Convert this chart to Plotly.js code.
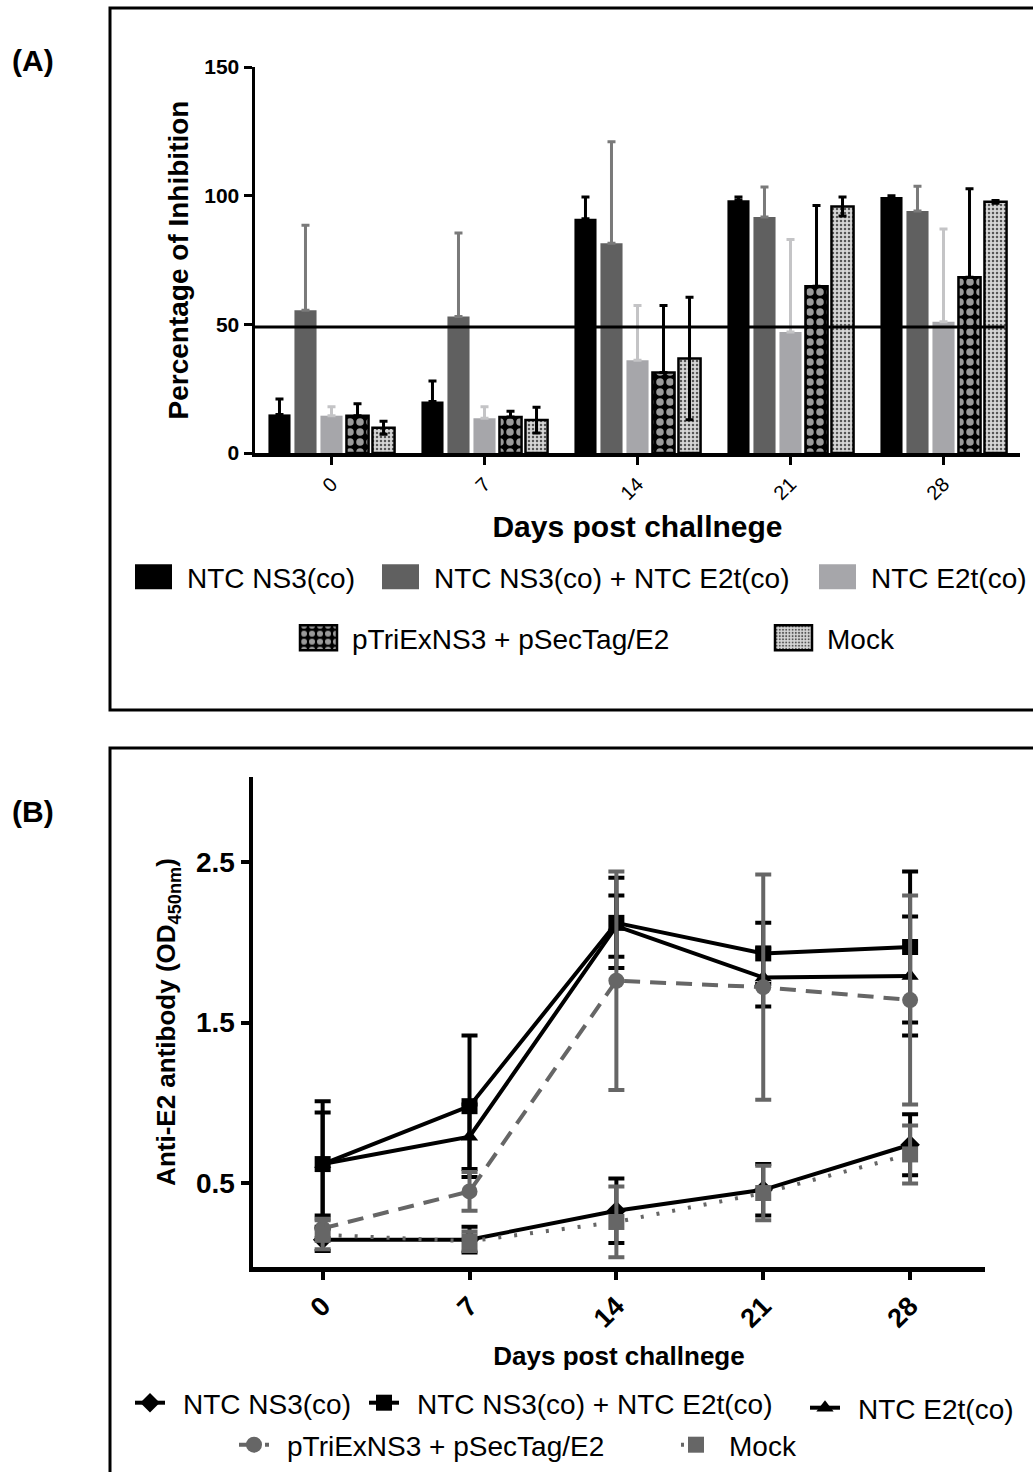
<!DOCTYPE html>
<html><head><meta charset="utf-8">
<script src="https://cdn.plot.ly/plotly-3.0.1.min.js"></script>
<style>html,body{margin:0;padding:0;background:#fff}#chart{width:1033px;height:1472px}</style>
</head><body><div id="chart"></div>
<script>
// ---------- data ----------
const days = ['0', '7', '14', '21', '28'];
const dayNums = [0, 7, 14, 21, 28];
const seriesNames = ['NTC NS3(co)', 'NTC NS3(co) + NTC E2t(co)', 'NTC E2t(co)', 'pTriExNS3 + pSecTag/E2', 'Mock'];

// Panel A: percentage of inhibition (mean, SD)
const inhNS3 = [15, 20, 91, 98.2, 99.5];
const inhNS3Err = [6, 8, 8.5, 1.3, 0.5];
const inhCombo = [55.5, 53, 81.5, 91.7, 94];
const inhComboErr = [33, 32.5, 39.5, 11.7, 9.7];
const inhE2t = [14.5, 13.5, 36, 47, 51];
const inhE2tErr = [3.5, 4.5, 21.3, 36, 36];
const inhPtri = [14.5, 14, 31.3, 64.8, 68.3];
const inhPtriErr = [4.6, 2.2, 26, 31.4, 34.4];
const inhMock = [9.8, 12.8, 36.7, 95.8, 97.6];
const inhMockErr = [2.5, 5, 23.8, 3.7, 0.5];
const threshold = 49;

// Panel B: anti-E2 antibody OD450 (mean, SD)
const odNS3 = [0.15, 0.15, 0.33, 0.46, 0.74];
const odNS3Err = [0.07, 0.08, 0.2, 0.16, 0.19];
const odCombo = [0.62, 0.98, 2.12, 1.93, 1.97];
const odComboErr = [0.39, 0.44, 0.28, 0.19, 0.47];
const odE2t = [0.62, 0.79, 2.10, 1.78, 1.79];
const odE2tErr = [0.32, 0.2, 0.19, 0.18, 0.37];
const odPtri = [0.22, 0.45, 1.76, 1.72, 1.64];
const odPtriErr = [0.06, 0.12, 0.68, 0.70, 0.65];
const odMock = [0.18, 0.14, 0.26, 0.44, 0.68];
const odMockErr = [0.09, 0.06, 0.22, 0.17, 0.18];

// ---------- styling ----------
const FONT = 'Liberation Sans, Arial, Helvetica, sans-serif';
const zeros = days.map(() => 0);

function barTrace(name, y, err, minus, marker, errColor, legendId) {
  return {
    type: 'bar', x: days, y: y, name: name, xaxis: 'x', yaxis: 'y', legend: legendId,
    marker: marker,
    error_y: {type: 'data', array: err, arrayminus: minus, symmetric: false,
              color: errColor, thickness: 3, width: 4},
    hoverinfo: 'skip'
  };
}

const traces = [
  barTrace(seriesNames[0], inhNS3, inhNS3Err, zeros, {color: '#000000', line: {width: 0}}, '#000000', 'legend'),
  barTrace(seriesNames[1], inhCombo, inhComboErr, zeros, {color: '#606060', line: {width: 0}}, '#7a7a7a', 'legend2'),
  barTrace(seriesNames[2], inhE2t, inhE2tErr, zeros, {color: '#a6a6aa', line: {width: 0}}, '#c4c4c6', 'legend3'),
  barTrace(seriesNames[3], inhPtri, inhPtriErr, zeros,
    {color: '#000000', line: {color: '#000000', width: 2.5},
     pattern: {shape: '.', bgcolor: '#000000', fgcolor: '#9a9a9a', size: 10, solidity: 0.45, fillmode: 'replace'}},
    '#000000', 'legend4'),
  barTrace(seriesNames[4], inhMock, inhMockErr, inhMockErr,
    {color: '#d6d6d6', line: {color: '#000000', width: 2.5},
     pattern: {shape: '.', bgcolor: '#d6d6d6', fgcolor: '#555555', size: 4, solidity: 0.3, fillmode: 'replace'}},
    '#000000', 'legend5')
];

function lineTrace(name, y, err, color, dash, width, symbol, size, legendId) {
  return {
    type: 'scatter', mode: 'lines+markers', x: dayNums, y: y, name: name,
    xaxis: 'x2', yaxis: 'y2', legend: legendId,
    line: {color: color, width: width, dash: dash},
    marker: {color: color, symbol: symbol, size: size},
    error_y: {type: 'data', array: err, symmetric: true, color: color, thickness: 4, width: 8},
    hoverinfo: 'skip'
  };
}

traces.push(
  lineTrace(seriesNames[0], odNS3, odNS3Err, '#000000', 'solid', 4, 'diamond', 15, 'legend6'),
  lineTrace(seriesNames[1], odCombo, odComboErr, '#000000', 'solid', 4, 'square', 16, 'legend7'),
  lineTrace(seriesNames[2], odE2t, odE2tErr, '#000000', 'solid', 4, 'triangle-up', 15, 'legend8'),
  lineTrace(seriesNames[3], odPtri, odPtriErr, '#666666', '16px,10px', 4, 'circle', 16, 'legend9'),
  lineTrace(seriesNames[4], odMock, odMockErr, '#666666', '3px,13px', 4, 'square', 16, 'legend10')
);

const W = 1033, H = 1472;
const px = v => v / W;
const py = v => 1 - v / H;

function leg(x, y) {
  return {x: px(x), y: py(y), xanchor: 'left', yanchor: 'middle', orientation: 'h',
          bgcolor: 'rgba(0,0,0,0)', borderwidth: 0,
          font: {family: FONT, size: 28, color: '#000'}};
}

const axisCommon = {
  showline: true, linecolor: '#000', ticks: 'outside', tickcolor: '#000',
  showgrid: false, zeroline: false, fixedrange: true
};

const layout = {
  width: W, height: H, margin: {l: 0, r: 0, t: 0, b: 0},
  paper_bgcolor: '#ffffff', plot_bgcolor: 'rgba(0,0,0,0)',
  font: {family: FONT, color: '#000'},
  barmode: 'group', bargap: 0.15, bargroupgap: 0.15,
  xaxis: Object.assign({}, axisCommon, {
    domain: [px(255), px(1020)], anchor: 'y', type: 'category', range: [-0.5, 4.5],
    linewidth: 3.5, ticklen: 8, tickwidth: 3, tickangle: -45,
    tickfont: {size: 20, family: FONT},
    title: {text: 'Days post challnege', font: {size: 30, weight: 'bold', family: FONT}, standoff: 14}
  }),
  yaxis: Object.assign({}, axisCommon, {
    domain: [py(453), py(67)], anchor: 'x', range: [0, 150], tickvals: [0, 50, 100, 150],
    linewidth: 3.5, ticklen: 8, tickwidth: 3,
    tickfont: {size: 21, weight: 'bold', family: FONT},
    title: {text: 'Percentage of Inhibition', font: {size: 28, weight: 'bold', family: FONT}, standoff: 8}
  }),
  xaxis2: Object.assign({}, axisCommon, {
    domain: [px(253), px(985)], anchor: 'y2', range: [-3.32, 31.57],
    tickvals: dayNums, ticktext: days,
    linewidth: 4.5, ticklen: 8, tickwidth: 4, tickangle: -45,
    tickfont: {size: 27, weight: 'bold', family: FONT},
    title: {text: 'Days post challnege', font: {size: 26, weight: 'bold', family: FONT}, standoff: 16}
  }),
  yaxis2: Object.assign({}, axisCommon, {
    domain: [py(1267), py(777)], anchor: 'x2', range: [-0.02, 3.027],
    tickvals: [0.5, 1.5, 2.5], ticktext: ['0.5', '1.5', '2.5'],
    linewidth: 4.5, ticklen: 8, tickwidth: 4,
    tickfont: {size: 28, weight: 'bold', family: FONT},
    title: {text: 'Anti-E2 antibody (OD<sub>450nm</sub>)', font: {size: 26, weight: 'bold', family: FONT}, standoff: 14}
  }),
  shapes: [
    {type: 'rect', xref: 'paper', yref: 'paper', x0: px(110), x1: px(1045), y0: py(710), y1: py(8),
     line: {color: '#000', width: 3}, fillcolor: 'rgba(0,0,0,0)'},
    {type: 'rect', xref: 'paper', yref: 'paper', x0: px(110), x1: px(1045), y0: py(1480), y1: py(748),
     line: {color: '#000', width: 3}, fillcolor: 'rgba(0,0,0,0)'},
    {type: 'line', xref: 'x domain', yref: 'y', x0: 0, x1: 0.98, y0: threshold, y1: threshold,
     line: {color: '#000', width: 3}, layer: 'above'}
  ],
  annotations: [
    {text: '<b>(A)</b>', xref: 'paper', yref: 'paper', x: px(33), y: py(60), xanchor: 'center', yanchor: 'middle',
     showarrow: false, font: {size: 30, family: FONT, color: '#000'}},
    {text: '<b>(B)</b>', xref: 'paper', yref: 'paper', x: px(33), y: py(812), xanchor: 'center', yanchor: 'middle',
     showarrow: false, font: {size: 30, family: FONT, color: '#000'}}
  ],
  showlegend: true,
  legend: leg(147, 577), legend2: leg(394, 577), legend3: leg(831, 577),
  legend4: leg(312, 638), legend5: leg(787, 638),
  legend6: leg(143, 1403), legend7: leg(377, 1403), legend8: leg(818, 1408),
  legend9: leg(247, 1445), legend10: leg(689, 1445)
};

const legA = ['legend', 'legend2', 'legend3', 'legend4', 'legend5'];
const legB = ['legend6', 'legend7', 'legend8', 'legend9', 'legend10'];

Plotly.newPlot('chart', traces, layout, {staticPlot: true, displayModeBar: false}).then(function (gd) {
  legA.concat(legB).forEach(function (id) {
    gd.querySelectorAll('g.' + id + ' [clip-path]').forEach(function (e) { e.removeAttribute('clip-path'); });
    const root = gd.querySelector('g.' + id);
    if (root) root.removeAttribute('clip-path');
  });
  // enlarge bar swatches in panel A legends
  legA.forEach(function (id) {
    gd.querySelectorAll('g.' + id + ' .legendpoints path').forEach(function (p) {
      p.setAttribute('d', 'M5,12.5H-32V-12.5H5Z');
    });
  });
  // shift line/marker swatches in panel B legends
  legB.forEach(function (id) {
    gd.querySelectorAll('g.' + id + ' .legendsymbols, g.' + id + ' .legendlines').forEach(function (g) {
      const t = g.getAttribute('transform') || '';
      g.setAttribute('transform', 'translate(-13,0) ' + t);
    });
  });
});
</script>
</body></html>
